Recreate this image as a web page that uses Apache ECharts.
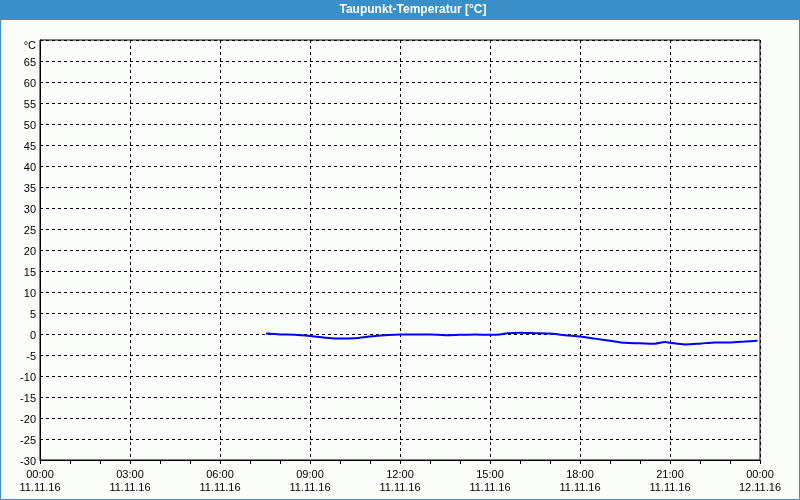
<!DOCTYPE html>
<html><head><meta charset="utf-8">
<script src="https://cdn.jsdelivr.net/npm/echarts@6/dist/echarts.min.js"></script>
<style>html,body{margin:0;padding:0;background:#fbfdfb}#c{width:800px;height:500px}</style>
</head><body><div id="c"></div>
<script>
const times = ["07:32","08:00","08:30","09:00","09:30","10:00","10:30","11:00","11:30","12:00","12:30","13:00","13:30","14:00","14:30","15:00","15:20","15:35","16:00","16:30","17:00","17:30","18:00","18:30","19:00","19:30","20:00","20:30","20:50","21:00","21:30","22:00","22:30","23:00","23:30","23:55"];
const dewPoint = [0.1,-0.1,-0.2,-0.5,-0.9,-1.1,-1.0,-0.6,-0.3,-0.1,-0.1,-0.1,-0.3,-0.2,-0.1,-0.2,-0.1,0.2,0.3,0.2,0.1,-0.3,-0.6,-1.1,-1.6,-2.1,-2.2,-2.3,-1.9,-2.1,-2.5,-2.3,-2.0,-2.0,-1.8,-1.6];
const xTickTimes = ["00:00","03:00","06:00","09:00","12:00","15:00","18:00","21:00","00:00"];
const xTickDates = ["11.11.16","11.11.16","11.11.16","11.11.16","11.11.16","11.11.16","11.11.16","11.11.16","12.11.16"];
const yUnitLabel = "°C";
const titleText = "Taupunkt-Temperatur [°C]";

function toHours(t){const p=t.split(':');return +p[0]+(+p[1])/60;}
const seriesData = times.map((t,i)=>[toHours(t), dewPoint[i]]);

const chart = echarts.init(document.getElementById('c'));
const font = 'Liberation Sans';
chart.setOption({
  backgroundColor:'#fbfdfb',
  animation:false,
  graphic:[
    {type:'rect',shape:{x:0,y:0,width:800,height:20},style:{fill:'#3b8fc8'},silent:true},
    {type:'rect',shape:{x:0.5,y:0.5,width:799,height:499},style:{fill:'none',stroke:'#3b8fc8',lineWidth:1},silent:true},
    {type:'text',x:413,y:10,style:{text:titleText,fill:'#ffffff',font:'bold 12px "Liberation Sans"',textAlign:'center',textVerticalAlign:'middle'},silent:true}
  ],
  grid:{left:40,right:40,top:40,bottom:40,show:true,borderColor:'#000',borderWidth:1,backgroundColor:'transparent'},
  xAxis:{
    type:'value',min:0,max:24,interval:3,
    axisLine:{onZero:false,lineStyle:{color:'#000',width:1}},
    axisTick:{show:true,length:4,lineStyle:{color:'#000'}},
    minorTick:{show:true,splitNumber:3,length:4,lineStyle:{color:'#000'}},
    splitLine:{show:true,lineStyle:{color:'#000',type:[3,3],width:1}},
    axisLabel:{color:'#000',fontFamily:font,fontSize:11,margin:8,lineHeight:13,
      formatter:function(v){const i=Math.round(v/3);return xTickTimes[i]+'\n'+xTickDates[i];}}
  },
  yAxis:{
    type:'value',min:-30,max:70,interval:5,
    axisLine:{show:true,onZero:false,lineStyle:{color:'#000',width:1}},
    axisTick:{show:false},
    splitLine:{show:true,lineStyle:{color:'#000',type:[3,3],width:1}},
    axisLabel:{color:'#000',fontFamily:font,fontSize:11,margin:4,padding:[4,0,0,0],
      formatter:function(v){return v===70?'{u|'+yUnitLabel+'}':String(v);},
      rich:{u:{fontFamily:font,fontSize:11,color:'#000',padding:[8,0,0,0]}}}
  },
  series:[{type:'line',data:seriesData,showSymbol:false,smooth:0.3,
    lineStyle:{color:'#0000ee',width:2},itemStyle:{color:'#0000ee'}}]
});
</script></body></html>
